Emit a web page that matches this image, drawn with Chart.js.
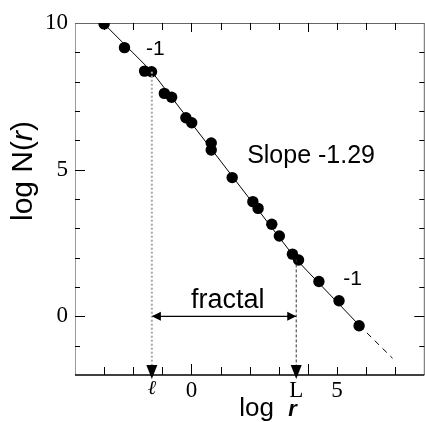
<!DOCTYPE html>
<html>
<head>
<meta charset="utf-8">
<script src="https://cdn.jsdelivr.net/npm/chart.js@4/dist/chart.umd.min.js"></script>
<style>
  html, body { margin: 0; padding: 0; background: #fff; overflow: hidden; }
  #wrap { position: absolute; left: 0; top: 0; width: 430px; height: 422px; }
</style>
</head>
<body>
<div id="wrap"><canvas id="chart"></canvas></div>
<script>
// ==================== DATA ====================
// measured points (log r, log N(r))
const PTS_X = [-3.00, -2.30, -1.61, -1.37, -0.93, -0.68, -0.19, 0.01, 0.68, 0.68, 1.40, 2.11, 2.29, 2.76, 3.02, 3.47, 3.68, 4.38, 5.07, 5.76];
const PTS_Y = [9.97, 9.16, 8.36, 8.34, 7.60, 7.47, 6.77, 6.60, 5.91, 5.67, 4.73, 3.91, 3.68, 3.14, 2.74, 2.12, 1.92, 1.19, 0.53, -0.32];

// broken fit line: slope -1, -1.29, -1 (last piece dashed)
const FIT_X = [-3.00, -1.36, 3.60, 5.76, 6.91];
const FIT_Y = [9.97, 8.34, 1.94, -0.30, -1.43];

// crossover scales
const ELL_X = -1.36;
const L_X = 3.60;
const ELL_TOP = 8.34;
const L_TOP = 1.94;
const FRACTAL_Y = 0;

// axes
const X_MIN = -4, X_MAX = 8;
const Y_MIN = -2, Y_MAX = 10;
const X_TICK_VALUES = [ELL_X, 0, L_X, 5];
const X_TICK_LABELS = ['\u2113', '0', 'L', '5'];
const Y_TICK_VALUES = [0, 5, 10];
const Y_TICK_LABELS = ['0', '5', '10'];

// annotations [text, x, y, size]
const NOTES = [
  ['-1', -1.24, 8.91, 21],
  ['Slope -1.29', 4.11, 5.22, 25],
  ['-1', 5.54, 1.07, 21],
  ['fractal', 1.25, 0.29, 27]
];

const SANS = "'Liberation Sans', Arial, sans-serif";
const SERIF = "'Liberation Serif', 'Times New Roman', serif";

const toXY = (xs, ys) => xs.map((x, i) => ({ x: x, y: ys[i] }));

// ==================== PLUGINS ====================
function tri(ctx, x, y, dir, len, half) {
    // dir: 'down' | 'left' | 'right', tip at (x,y)
    ctx.beginPath();
    ctx.moveTo(x, y);
    if (dir === 'down') { ctx.lineTo(x - half, y - len); ctx.lineTo(x + half, y - len); }
    if (dir === 'left') { ctx.lineTo(x + len, y - half); ctx.lineTo(x + len, y + half); }
    if (dir === 'right') { ctx.lineTo(x - len, y - half); ctx.lineTo(x - len, y + half); }
    ctx.closePath();
    ctx.fill();
}

function drawParts(ctx, parts, cx, cy, rot) {
    let w = 0;
    parts.forEach(([t, f]) => { ctx.font = f; w += ctx.measureText(t).width; });
    ctx.save();
    ctx.translate(cx, cy);
    ctx.rotate(rot);
    ctx.textAlign = 'left';
    ctx.textBaseline = 'alphabetic';
    let pos = -w / 2;
    parts.forEach(([t, f]) => {
        ctx.font = f;
        ctx.fillText(t, pos, 0);
        pos += ctx.measureText(t).width;
    });
    ctx.restore();
}

const framePlugin = {
    id: 'frame',
    beforeDatasetsDraw(chart) {
        const { ctx, chartArea: a, scales: { x, y } } = chart;
        ctx.save();
        ctx.lineWidth = 1;
        // left (grey), top, right
        ctx.strokeStyle = '#9a9a9a';
        ctx.beginPath(); ctx.moveTo(a.left + 0.5, a.top); ctx.lineTo(a.left + 0.5, a.bottom); ctx.stroke();
        ctx.strokeStyle = '#666';
        ctx.beginPath(); ctx.moveTo(a.left, a.top + 0.5); ctx.lineTo(a.right, a.top + 0.5); ctx.stroke();
        ctx.beginPath(); ctx.moveTo(a.right, a.top); ctx.lineTo(a.right, a.bottom); ctx.stroke();

        ctx.strokeStyle = '#000';
        for (let v = X_MIN + 1; v < X_MAX; v++) {
            const px = Math.round(x.getPixelForValue(v)) + 0.5;
            const major = (v === 0 || v === 4);
            ctx.beginPath(); ctx.moveTo(px, a.bottom); ctx.lineTo(px, a.bottom - (major ? 11 : 8)); ctx.stroke();
            ctx.beginPath(); ctx.moveTo(px, a.top); ctx.lineTo(px, a.top + (major ? 9 : 7)); ctx.stroke();
        }
        for (let v = Y_MIN + 1; v < Y_MAX; v++) {
            const py = Math.round(y.getPixelForValue(v)) + 0.5;
            const major = (v === 0 || v === 5);
            ctx.beginPath(); ctx.moveTo(a.left, py); ctx.lineTo(a.left + (major ? 10 : 5), py); ctx.stroke();
            ctx.beginPath(); ctx.moveTo(a.right, py); ctx.lineTo(a.right - (v === 0 ? 10 : 5), py); ctx.stroke();
        }
        // bottom axis (black)
        ctx.lineWidth = 1.5;
        ctx.beginPath(); ctx.moveTo(a.left, a.bottom); ctx.lineTo(a.right, a.bottom); ctx.stroke();
        ctx.restore();
    },
    afterDatasetsDraw(chart) {
        const { ctx, chartArea: a, scales: { x, y } } = chart;
        ctx.save();
        ctx.fillStyle = '#000';
        // arrowheads
        tri(ctx, x.getPixelForValue(ELL_X), a.bottom + 4, 'down', 14, 5.5);
        tri(ctx, x.getPixelForValue(L_X), a.bottom + 4, 'down', 14, 5.5);
        const fy = y.getPixelForValue(FRACTAL_Y);
        tri(ctx, x.getPixelForValue(ELL_X), fy, 'left', 9, 4.5);
        tri(ctx, x.getPixelForValue(L_X), fy, 'right', 9, 4.5);

        // annotations
        ctx.textAlign = 'center';
        ctx.textBaseline = 'alphabetic';
        NOTES.forEach(([t, vx, vy, size]) => {
            ctx.font = size + 'px ' + SANS;
            ctx.fillText(t, x.getPixelForValue(vx), y.getPixelForValue(vy));
        });

        // axis titles (mixed styles)
        drawParts(ctx, [['log N(', '30px ' + SANS], ['r', 'italic 30px ' + SANS], [')', '30px ' + SANS]],
            32, 171, -Math.PI / 2);
        drawParts(ctx, [['log  ', '26px ' + SANS], ['r', 'italic bold 22px ' + SANS]],
            268, 416, 0);
        ctx.restore();
    }
};

// ==================== CHART ====================
const chart = new Chart(document.getElementById('chart'), {
    type: 'scatter',
    data: {
        datasets: [
            {
                // ell drop line
                data: toXY([ELL_X, ELL_X], [ELL_TOP, Y_MIN]),
                showLine: true, borderColor: '#a8a8a8', borderWidth: 2, borderDash: [2, 2],
                pointRadius: 0
            },
            {
                // L drop line
                data: toXY([L_X, L_X], [L_TOP, Y_MIN]),
                showLine: true, borderColor: '#333', borderWidth: 1, borderDash: [3, 2],
                pointRadius: 0
            },
            {
                // fractal range arrow
                data: toXY([ELL_X, L_X], [FRACTAL_Y, FRACTAL_Y]),
                showLine: true, borderColor: '#000', borderWidth: 1.2,
                pointRadius: 0
            },
            {
                // fit line
                data: toXY(FIT_X, FIT_Y),
                showLine: true, borderColor: '#000', borderWidth: 1,
                pointRadius: 0,
                segment: { borderDash: c => c.p0DataIndex === FIT_X.length - 2 ? [6, 5] : undefined }
            },
            {
                data: toXY(PTS_X, PTS_Y),
                backgroundColor: '#000', borderColor: '#000',
                pointRadius: 5.7, pointBorderWidth: 0
            }
        ]
    },
    options: {
        responsive: true,
        maintainAspectRatio: false,
        animation: false,
        layout: { padding: { top: 23, right: 3.7, left: 0, bottom: 0 } },
        plugins: { legend: { display: false }, tooltip: { enabled: false } },
        scales: {
            x: {
                type: 'linear', min: X_MIN, max: X_MAX,
                grid: { display: false, drawTicks: false, tickLength: 0 }, border: { display: false },
                afterBuildTicks: s => { s.ticks = X_TICK_VALUES.map(v => ({ value: v })); },
                afterFit: s => { s.height = 47; },
                ticks: {
                    padding: 2, color: '#000', maxRotation: 0, autoSkip: false,
                    callback: v => X_TICK_LABELS[X_TICK_VALUES.indexOf(v)],
                    font: c => (c.tick && c.tick.value === ELL_X)
                        ? { family: SERIF, size: 20, style: 'italic' }
                        : { family: SERIF, size: 23 }
                }
            },
            y: {
                type: 'linear', min: Y_MIN, max: Y_MAX,
                grid: { display: false, drawTicks: false, tickLength: 0 }, border: { display: false },
                afterBuildTicks: s => { s.ticks = Y_TICK_VALUES.map(v => ({ value: v })); },
                afterFit: s => { s.width = 75; },
                ticks: {
                    padding: 7, color: '#000', autoSkip: false,
                    callback: v => Y_TICK_LABELS[Y_TICK_VALUES.indexOf(v)],
                    font: { family: SERIF, size: 23 }
                }
            }
        }
    },
    plugins: [framePlugin]
});
</script>
</body>
</html>
